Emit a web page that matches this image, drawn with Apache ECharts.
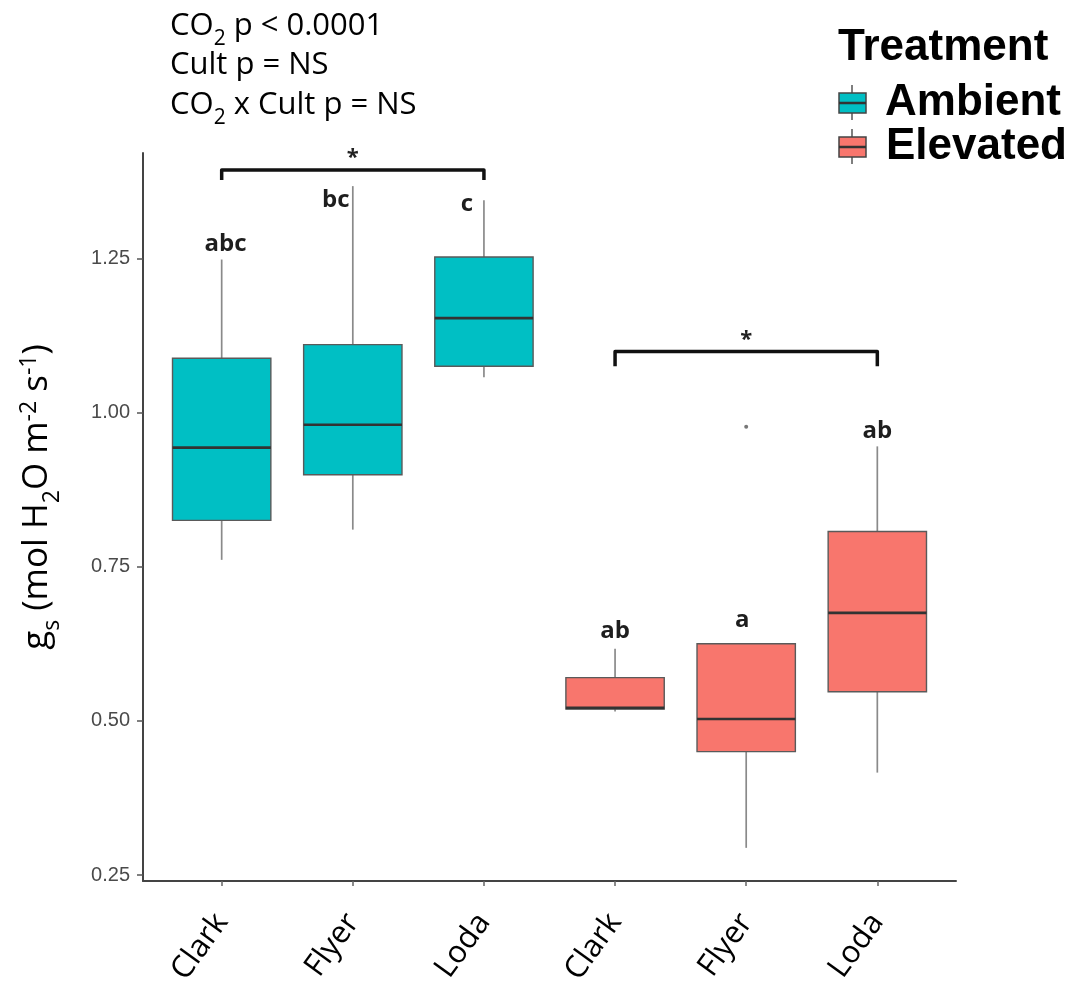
<!DOCTYPE html>
<html><head><meta charset="utf-8">
<script src="https://cdn.jsdelivr.net/npm/echarts@6/dist/echarts.min.js"></script>
<style>html,body{margin:0;padding:0;background:#fff}#main{width:1071px;height:988px}</style>
</head><body><div id="main"></div>
<script>
const categories = ['Clark','Flyer','Loda','Clark','Flyer','Loda'];
const treatments = ['Ambient','Elevated'];
const treatmentColors = ['#00BFC4','#F8766D'];
// [position, lower whisker, Q1, median, Q3, upper whisker]
const ambientBoxes = [
  [1, 0.761, 0.825, 0.943, 1.088, 1.248],
  [2, 0.810, 0.899, 0.980, 1.110, 1.367],
  [3, 1.057, 1.075, 1.153, 1.252, 1.344]
];
const elevatedBoxes = [
  [4, 0.515, 0.519, 0.521, 0.570, 0.617],
  [5, 0.294, 0.450, 0.503, 0.625, 0.625],
  [6, 0.416, 0.547, 0.675, 0.807, 0.945]
];
const elevatedOutliers = [[5, 0.977]];
const groupLetters = ['abc','bc','c','ab','a','ab'];
const letterAnchors = [[1.03,1.273],[1.87,1.344],[2.87,1.338],[4.0,0.646],[4.97,0.664],[6.0,0.969]];
// [from, to, bar level, tip level]
const brackets = [[1,3,1.393,1.377],[4,6,1.099,1.075]];
const bracketLabels = ['*','*'];
const yTicks = [0.25,0.50,0.75,1.00,1.25];
const xTicks = [1,2,3,4,5,6];
const statLines = [
  ['CO', '2', ' p < 0.0001'],
  ['Cult p = NS'],
  ['CO', '2', ' x Cult p = NS']
];

const FONT = '"Open Sans", sans-serif';

function boxRender(color) {
  return function (params, api) {
    const x = api.value(0);
    const lo = api.coord([x, api.value(1)]);
    const q1 = api.coord([x, api.value(2)]);
    const med = api.coord([x, api.value(3)]);
    const q3 = api.coord([x, api.value(4)]);
    const hi = api.coord([x, api.value(5)]);
    const w = api.size([0.75, 0])[0];
    const cx = lo[0];
    const wStyle = {stroke: '#8a8a8a', lineWidth: 1.7};
    return {type: 'group', children: [
      {type: 'line', shape: {x1: cx, y1: hi[1], x2: cx, y2: q3[1]}, style: wStyle},
      {type: 'line', shape: {x1: cx, y1: q1[1], x2: cx, y2: lo[1]}, style: wStyle},
      {type: 'rect', shape: {x: cx - w / 2, y: q3[1], width: w, height: q1[1] - q3[1]},
        style: {fill: color, stroke: '#5a5a5a', lineWidth: 1.4}},
      {type: 'line', shape: {x1: cx - w / 2, y1: med[1], x2: cx + w / 2, y2: med[1]},
        style: {stroke: '#333', lineWidth: 2.6}}
    ]};
  };
}

const chart = echarts.init(document.getElementById('main'), null, {renderer: 'canvas'});

function legendGlyph(color, cy) {
  return [
    {type: 'line', shape: {x1: 852, y1: cy - 18, x2: 852, y2: cy + 17}, style: {stroke: '#555', lineWidth: 1.5}},
    {type: 'rect', shape: {x: 839, y: cy - 10, width: 27, height: 20}, style: {fill: color, stroke: '#444', lineWidth: 1.5}},
    {type: 'line', shape: {x1: 839, y1: cy, x2: 866, y2: cy}, style: {stroke: '#333', lineWidth: 2.5}}
  ];
}

function statText(parts, y) {
  const rich = {
    m: {fontFamily: FONT, fontSize: 31, color: '#000', lineHeight: 46},
    s: {fontFamily: FONT, fontSize: 21, color: '#000', lineHeight: 21, verticalAlign: 'bottom'}
  };
  const str = parts.map((p, i) => (i === 1 ? '{s|' + p + '}' : '{m|' + p + '}')).join('');
  return {type: 'text', left: 170, top: y, style: {text: str, rich: rich}};
}

const graphics = [
  statText(statLines[0], 11),
  statText(statLines[1], 50),
  statText(statLines[2], 90),
  {type: 'text', x: 37, y: 497, rotation: Math.PI / 2,
    style: {
      text: '{m|g}{s|s}{m| (mol H}{s|2}{m|O m}{p|-2}{m| s}{p|-1}{m|)}',
      align: 'center', verticalAlign: 'middle',
      rich: {
        m: {fontFamily: FONT, fontSize: 35, color: '#000', lineHeight: 54},
        s: {fontFamily: FONT, fontSize: 23, color: '#000', lineHeight: 23, verticalAlign: 'bottom'},
        p: {fontFamily: FONT, fontSize: 23, color: '#000', lineHeight: 23, verticalAlign: 'top', padding: [8, 0, 0, 0]}
      }
    }},
  {type: 'text', x: 838, y: 48, style: {text: 'Treatment', font: 'bold 44px "Liberation Sans", Arial, sans-serif', fill: '#000', verticalAlign: 'middle'}},
  {type: 'text', x: 885, y: 103, style: {text: treatments[0], font: 'bold 44px "Liberation Sans", Arial, sans-serif', fill: '#000', verticalAlign: 'middle'}},
  {type: 'text', x: 886, y: 147, style: {text: treatments[1], font: 'bold 44px "Liberation Sans", Arial, sans-serif', fill: '#000', verticalAlign: 'middle'}}
].concat(legendGlyph(treatmentColors[0], 103), legendGlyph(treatmentColors[1], 147));

const option = {
  backgroundColor: '#fff',
  animation: false,
  grid: {left: 143, right: 115, top: 153, bottom: 106, containLabel: false},
  xAxis: {
    type: 'value', min: 0.4, max: 6.6,
    splitLine: {show: false},
    axisLine: {show: true, lineStyle: {color: '#444', width: 2}},
    axisTick: {show: true, customValues: xTicks, length: 5, lineStyle: {color: '#666', width: 1.5}},
    axisLabel: {
      customValues: xTicks, rotate: 54, margin: 36,
      formatter: v => categories[Math.round(v) - 1] || '',
      fontFamily: FONT, fontSize: 31, color: '#000'
    }
  },
  yAxis: {
    type: 'value', min: 0.2403, max: 1.4207,
    splitLine: {show: false},
    axisLine: {show: true, lineStyle: {color: '#444', width: 2}},
    axisTick: {show: true, customValues: yTicks, length: 6, lineStyle: {color: '#555', width: 1.5}},
    axisLabel: {
      customValues: yTicks, margin: 13,
      formatter: v => v.toFixed(2),
      fontFamily: '"Liberation Sans", Arial, sans-serif', fontSize: 20, color: '#4a4a4a'
    }
  },
  graphic: graphics,
  series: [
    {name: treatments[0], type: 'custom', renderItem: boxRender(treatmentColors[0]),
      encode: {x: 0, y: [1, 2, 3, 4, 5]}, data: ambientBoxes, z: 2},
    {name: treatments[1], type: 'custom', renderItem: boxRender(treatmentColors[1]),
      encode: {x: 0, y: [1, 2, 3, 4, 5]}, data: elevatedBoxes, z: 2},
    {name: 'outliers', type: 'scatter', data: elevatedOutliers, symbolSize: 4,
      itemStyle: {color: '#555'}, z: 3},
    {name: 'letters', type: 'custom', encode: {x: 0, y: 1}, data: letterAnchors, z: 4,
      renderItem: function (params, api) {
        const p = api.coord([api.value(0), api.value(1)]);
        return {type: 'text', x: p[0], y: p[1], style: {
          text: groupLetters[params.dataIndex], align: 'center', verticalAlign: 'middle',
          font: 'bold 24px ' + FONT, fill: '#1e1e1e'}};
      }},
    {name: 'brackets', type: 'custom', encode: {x: [0, 1], y: [2, 3]}, data: brackets, z: 4,
      renderItem: function (params, api) {
        const a = api.value(0), b = api.value(1), bar = api.value(2), tip = api.value(3);
        const p1 = api.coord([a, tip]), p2 = api.coord([a, bar]), p3 = api.coord([b, bar]), p4 = api.coord([b, tip]);
        const mid = api.coord([(a + b) / 2, bar]);
        return {type: 'group', children: [
          {type: 'polyline', shape: {points: [p1, p2, p3, p4]}, style: {stroke: '#111', lineWidth: 3.5, fill: null, lineJoin: 'round'}},
          {type: 'text', x: mid[0], y: mid[1] - 12, style: {
            text: bracketLabels[params.dataIndex], align: 'center', verticalAlign: 'middle',
            font: 'bold 22px ' + FONT, fill: '#222'}}
        ]};
      }}
  ]
};
chart.setOption(option);
</script>
</body></html>
